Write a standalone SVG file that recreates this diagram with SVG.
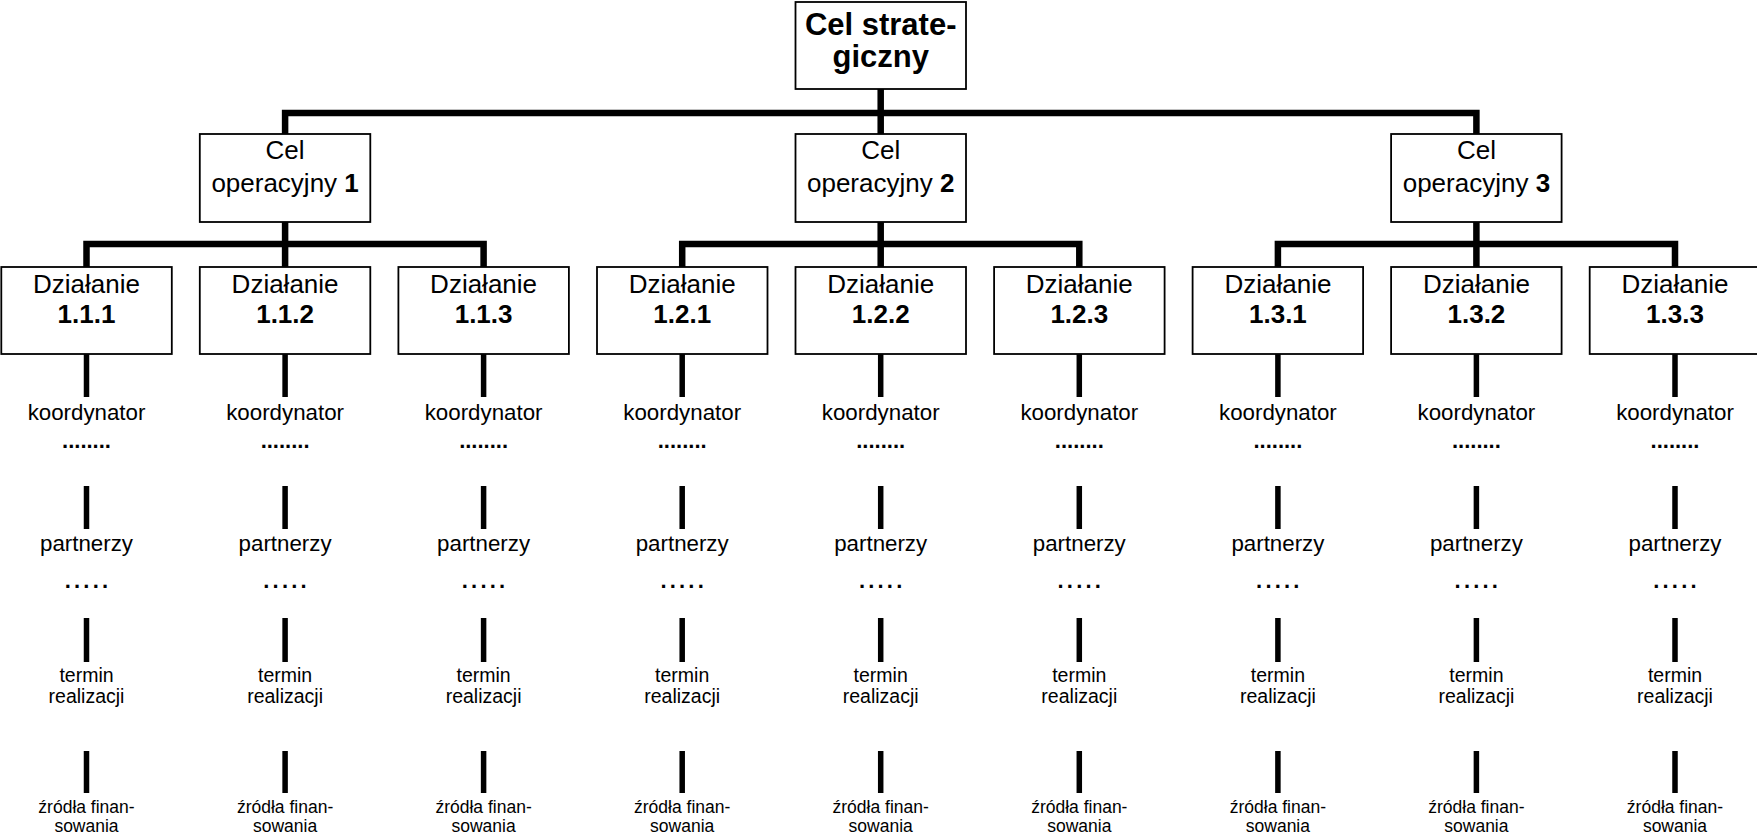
<svg xmlns="http://www.w3.org/2000/svg" width="1757" height="835" viewBox="0 0 1757 835">
<style>
.box{fill:#fff;stroke:#000;stroke-width:1.8}
.bar{fill:none;stroke:#000;stroke-width:6.5;stroke-linejoin:miter;stroke-linecap:butt}
.stem{fill:none;stroke:#000;stroke-width:5.5}
text{font-family:"Liberation Sans",Arial,sans-serif;fill:#000;text-anchor:middle}
.top{font-size:31px;font-weight:bold}
.mid{font-size:26px}
.b{font-weight:bold}
.k{font-size:22.3px}
.dots{font-size:22px;font-weight:bold}
.dots5{font-size:22px;font-weight:bold;letter-spacing:3.2px}
.t{font-size:19.5px}
.z{font-size:17.5px}
</style>
<rect width="1757" height="835" fill="#fff"/>
<g id="connectors">
<path class="bar" d="M880.7 89 V113 M285.1 134 V113 H1476.4 V134 M880.7 113 V134"/>
<path class="bar" d="M285.1 222 V244 M86.5 267 V244 H483.6 V267 M285.1 244 V267"/>
<path class="bar" d="M880.7 222 V244 M682.2 267 V244 H1079.3 V267 M880.7 244 V267"/>
<path class="bar" d="M1476.4 222 V244 M1277.9 267 V244 H1675 V267 M1476.4 244 V267"/>
<g class="stem">
<path d="M86.5 354 V397 M86.5 486 V529 M86.5 618 V662 M86.5 751 V793"/>
<path d="M285.1 354 V397 M285.1 486 V529 M285.1 618 V662 M285.1 751 V793"/>
<path d="M483.6 354 V397 M483.6 486 V529 M483.6 618 V662 M483.6 751 V793"/>
<path d="M682.2 354 V397 M682.2 486 V529 M682.2 618 V662 M682.2 751 V793"/>
<path d="M880.7 354 V397 M880.7 486 V529 M880.7 618 V662 M880.7 751 V793"/>
<path d="M1079.3 354 V397 M1079.3 486 V529 M1079.3 618 V662 M1079.3 751 V793"/>
<path d="M1277.9 354 V397 M1277.9 486 V529 M1277.9 618 V662 M1277.9 751 V793"/>
<path d="M1476.4 354 V397 M1476.4 486 V529 M1476.4 618 V662 M1476.4 751 V793"/>
<path d="M1675 354 V397 M1675 486 V529 M1675 618 V662 M1675 751 V793"/>
</g>
</g>
<g id="cel-strategiczny">
<rect class="box" x="795.5" y="2" width="170.5" height="87"/>
<text class="top" x="880.7" y="35">Cel strate-</text>
<text class="top" x="880.7" y="67">giczny</text>
</g>
<g id="cel-op-1">
<rect class="box" x="199.8" y="134" width="170.5" height="88"/>
<text class="mid" x="285.1" y="159">Cel</text>
<text class="mid" x="285.1" y="191.5">operacyjny <tspan class="b">1</tspan></text>
</g>
<g id="cel-op-2">
<rect class="box" x="795.5" y="134" width="170.5" height="88"/>
<text class="mid" x="880.7" y="159">Cel</text>
<text class="mid" x="880.7" y="191.5">operacyjny <tspan class="b">2</tspan></text>
</g>
<g id="cel-op-3">
<rect class="box" x="1391.1" y="134" width="170.5" height="88"/>
<text class="mid" x="1476.4" y="159">Cel</text>
<text class="mid" x="1476.4" y="191.5">operacyjny <tspan class="b">3</tspan></text>
</g>
<g id="dzialanie-1-1-1">
<rect class="box" x="1.3" y="267" width="170.5" height="87"/>
<text class="mid" x="86.5" y="292.5">Działanie</text>
<text class="mid b" x="86.5" y="322.5">1.1.1</text>
</g>
<g id="dzialanie-1-1-2">
<rect class="box" x="199.8" y="267" width="170.5" height="87"/>
<text class="mid" x="285.1" y="292.5">Działanie</text>
<text class="mid b" x="285.1" y="322.5">1.1.2</text>
</g>
<g id="dzialanie-1-1-3">
<rect class="box" x="398.4" y="267" width="170.5" height="87"/>
<text class="mid" x="483.6" y="292.5">Działanie</text>
<text class="mid b" x="483.6" y="322.5">1.1.3</text>
</g>
<g id="dzialanie-1-2-1">
<rect class="box" x="597" y="267" width="170.5" height="87"/>
<text class="mid" x="682.2" y="292.5">Działanie</text>
<text class="mid b" x="682.2" y="322.5">1.2.1</text>
</g>
<g id="dzialanie-1-2-2">
<rect class="box" x="795.5" y="267" width="170.5" height="87"/>
<text class="mid" x="880.7" y="292.5">Działanie</text>
<text class="mid b" x="880.7" y="322.5">1.2.2</text>
</g>
<g id="dzialanie-1-2-3">
<rect class="box" x="994.1" y="267" width="170.5" height="87"/>
<text class="mid" x="1079.3" y="292.5">Działanie</text>
<text class="mid b" x="1079.3" y="322.5">1.2.3</text>
</g>
<g id="dzialanie-1-3-1">
<rect class="box" x="1192.6" y="267" width="170.5" height="87"/>
<text class="mid" x="1277.9" y="292.5">Działanie</text>
<text class="mid b" x="1277.9" y="322.5">1.3.1</text>
</g>
<g id="dzialanie-1-3-2">
<rect class="box" x="1391.1" y="267" width="170.5" height="87"/>
<text class="mid" x="1476.4" y="292.5">Działanie</text>
<text class="mid b" x="1476.4" y="322.5">1.3.2</text>
</g>
<g id="dzialanie-1-3-3">
<rect class="box" x="1589.7" y="267" width="170.5" height="87"/>
<text class="mid" x="1675" y="292.5">Działanie</text>
<text class="mid b" x="1675" y="322.5">1.3.3</text>
</g>
<g id="details-1-1-1">
<text class="k" x="86.5" y="419.5">koordynator</text>
<text class="dots" x="86.5" y="448">........</text>
<text class="k" x="86.5" y="551">partnerzy</text>
<text class="dots5" x="88" y="588">.....</text>
<text class="t" x="86.5" y="682">termin</text>
<text class="t" x="86.5" y="703">realizacji</text>
<text class="z" x="86.5" y="813">źródła finan-</text>
<text class="z" x="86.5" y="832">sowania</text>
</g>
<g id="details-1-1-2">
<text class="k" x="285.1" y="419.5">koordynator</text>
<text class="dots" x="285.1" y="448">........</text>
<text class="k" x="285.1" y="551">partnerzy</text>
<text class="dots5" x="286.6" y="588">.....</text>
<text class="t" x="285.1" y="682">termin</text>
<text class="t" x="285.1" y="703">realizacji</text>
<text class="z" x="285.1" y="813">źródła finan-</text>
<text class="z" x="285.1" y="832">sowania</text>
</g>
<g id="details-1-1-3">
<text class="k" x="483.6" y="419.5">koordynator</text>
<text class="dots" x="483.6" y="448">........</text>
<text class="k" x="483.6" y="551">partnerzy</text>
<text class="dots5" x="485.1" y="588">.....</text>
<text class="t" x="483.6" y="682">termin</text>
<text class="t" x="483.6" y="703">realizacji</text>
<text class="z" x="483.6" y="813">źródła finan-</text>
<text class="z" x="483.6" y="832">sowania</text>
</g>
<g id="details-1-2-1">
<text class="k" x="682.2" y="419.5">koordynator</text>
<text class="dots" x="682.2" y="448">........</text>
<text class="k" x="682.2" y="551">partnerzy</text>
<text class="dots5" x="683.7" y="588">.....</text>
<text class="t" x="682.2" y="682">termin</text>
<text class="t" x="682.2" y="703">realizacji</text>
<text class="z" x="682.2" y="813">źródła finan-</text>
<text class="z" x="682.2" y="832">sowania</text>
</g>
<g id="details-1-2-2">
<text class="k" x="880.7" y="419.5">koordynator</text>
<text class="dots" x="880.7" y="448">........</text>
<text class="k" x="880.7" y="551">partnerzy</text>
<text class="dots5" x="882.2" y="588">.....</text>
<text class="t" x="880.7" y="682">termin</text>
<text class="t" x="880.7" y="703">realizacji</text>
<text class="z" x="880.7" y="813">źródła finan-</text>
<text class="z" x="880.7" y="832">sowania</text>
</g>
<g id="details-1-2-3">
<text class="k" x="1079.3" y="419.5">koordynator</text>
<text class="dots" x="1079.3" y="448">........</text>
<text class="k" x="1079.3" y="551">partnerzy</text>
<text class="dots5" x="1080.8" y="588">.....</text>
<text class="t" x="1079.3" y="682">termin</text>
<text class="t" x="1079.3" y="703">realizacji</text>
<text class="z" x="1079.3" y="813">źródła finan-</text>
<text class="z" x="1079.3" y="832">sowania</text>
</g>
<g id="details-1-3-1">
<text class="k" x="1277.9" y="419.5">koordynator</text>
<text class="dots" x="1277.9" y="448">........</text>
<text class="k" x="1277.9" y="551">partnerzy</text>
<text class="dots5" x="1279.4" y="588">.....</text>
<text class="t" x="1277.9" y="682">termin</text>
<text class="t" x="1277.9" y="703">realizacji</text>
<text class="z" x="1277.9" y="813">źródła finan-</text>
<text class="z" x="1277.9" y="832">sowania</text>
</g>
<g id="details-1-3-2">
<text class="k" x="1476.4" y="419.5">koordynator</text>
<text class="dots" x="1476.4" y="448">........</text>
<text class="k" x="1476.4" y="551">partnerzy</text>
<text class="dots5" x="1477.9" y="588">.....</text>
<text class="t" x="1476.4" y="682">termin</text>
<text class="t" x="1476.4" y="703">realizacji</text>
<text class="z" x="1476.4" y="813">źródła finan-</text>
<text class="z" x="1476.4" y="832">sowania</text>
</g>
<g id="details-1-3-3">
<text class="k" x="1675" y="419.5">koordynator</text>
<text class="dots" x="1675" y="448">........</text>
<text class="k" x="1675" y="551">partnerzy</text>
<text class="dots5" x="1676.5" y="588">.....</text>
<text class="t" x="1675" y="682">termin</text>
<text class="t" x="1675" y="703">realizacji</text>
<text class="z" x="1675" y="813">źródła finan-</text>
<text class="z" x="1675" y="832">sowania</text>
</g>
</svg>
